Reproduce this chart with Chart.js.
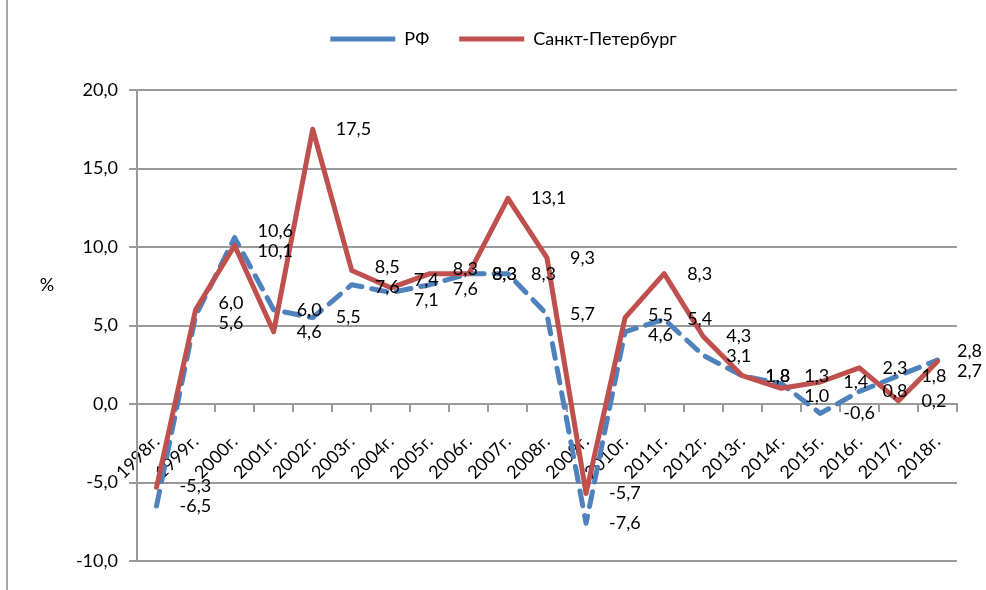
<!DOCTYPE html>
<html>
<head>
<meta charset="utf-8">
<script src="https://cdn.jsdelivr.net/npm/chart.js@4.4.1/dist/chart.umd.min.js"></script>
<style>
  html, body { margin: 0; padding: 0; background: #fff; }
  #wrap { width: 986px; height: 590px; }
</style>
</head>
<body>
<div id="wrap"><canvas id="chartCanvas" width="986" height="590"></canvas></div>
<script>
// ---- data ----
const years = [
  "1998г.", "1999г.", "2000г.", "2001г.", "2002г.", "2003г.", "2004г.",
  "2005г.", "2006г.", "2007г.", "2008г.", "2009г.", "2010г.", "2011г.",
  "2012г.", "2013г.", "2014г.", "2015г.", "2016г.", "2017г.", "2018г."
];
const rfValues = [-6.5, 5.6, 10.6, 6.0, 5.5, 7.6, 7.1, 7.6, 8.3, 8.3, 5.7, -7.6, 4.6, 5.4, 3.1, 1.8, 1.3, -0.6, 0.8, 1.8, 2.8];
const spbValues = [-5.3, 6.0, 10.1, 4.6, 17.5, 8.5, 7.4, 8.3, 8.3, 13.1, 9.3, -5.7, 5.5, 8.3, 4.3, 1.8, 1.0, 1.4, 2.3, 0.2, 2.7];
const yTicks = [-10, -5, 0, 5, 10, 15, 20];
const seriesNames = ["РФ", "Санкт-Петербург"];

const FONT = { family: "Lato, 'Noto Sans', sans-serif", size: 18 };
const GRID = "#9a9a9a";
const LABEL_GAP = 20;

// 1,5 style numbers
function fmt(v) {
  return v.toFixed(1).replace(".", ",");
}

// white background + thin frame line on the left
const frame = {
  id: "frame",
  beforeDraw(chart) {
    const ctx = chart.ctx;
    ctx.save();
    ctx.fillStyle = "#fff";
    ctx.fillRect(0, 0, chart.width, chart.height);
    ctx.strokeStyle = "#a6a6a6";
    ctx.lineWidth = 2;
    ctx.beginPath();
    ctx.moveTo(7, 0);
    ctx.lineTo(7, chart.height);
    ctx.stroke();
    ctx.restore();
  },
  afterDraw(chart) {
    // "%" axis caption, kept horizontal like the original
    const ctx = chart.ctx;
    const area = chart.chartArea;
    ctx.save();
    ctx.font = FONT.size + "px " + FONT.family;
    ctx.fillStyle = "#000";
    ctx.textAlign = "center";
    ctx.textBaseline = "middle";
    ctx.fillText("%", area.left - 90, area.top + 195);
    ctx.restore();
  }
};

// value labels to the right of each point
const pointLabels = {
  id: "pointLabels",
  afterDatasetsDraw(chart) {
    const ctx = chart.ctx;
    const rf = chart.getDatasetMeta(0).data;
    const spb = chart.getDatasetMeta(1).data;
    ctx.save();
    ctx.font = FONT.size + "px " + FONT.family;
    ctx.fillStyle = "#000";
    ctx.textAlign = "left";
    ctx.textBaseline = "middle";
    years.forEach((_, i) => {
      const a = { v: rfValues[i], p: rf[i] };
      const b = { v: spbValues[i], p: spb[i] };
      let ya = a.p.y, yb = b.p.y;
      if (a.v !== b.v && Math.abs(ya - yb) < LABEL_GAP) {
        const mid = (ya + yb) / 2;
        const s = a.v > b.v ? -1 : 1;
        ya = mid + s * LABEL_GAP / 2;
        yb = mid - s * LABEL_GAP / 2;
      }
      [[a, ya], [b, yb]].forEach(([o, y]) => {
        const txt = fmt(o.v);
        const w = ctx.measureText(txt).width;
        const x = Math.min(o.p.x + 23, chart.width - 4 - w);
        ctx.fillText(txt, x, y);
      });
    });
    ctx.restore();
  }
};

const ctx = document.getElementById("chartCanvas").getContext("2d");
const chart = new Chart(ctx, {
  type: "line",
  data: {
    labels: years,
    datasets: [
      {
        label: seriesNames[0],
        data: rfValues,
        borderColor: "#4F81BD",
        backgroundColor: "#4F81BD",
        borderWidth: 5,
        borderDash: [15, 10],
        borderCapStyle: "round",
        borderJoinStyle: "round",
        pointRadius: 0,
        tension: 0,
        fill: false,
        order: 2
      },
      {
        label: seriesNames[1],
        data: spbValues,
        borderColor: "#C0504D",
        backgroundColor: "#C0504D",
        borderWidth: 5,
        borderCapStyle: "round",
        borderJoinStyle: "round",
        pointRadius: 0,
        tension: 0,
        fill: false,
        order: 1
      }
    ]
  },
  options: {
    responsive: false,
    animation: false,
    devicePixelRatio: 1,
    layout: { padding: { top: 0, right: 29, bottom: 29, left: 50 } },
    plugins: {
      tooltip: { enabled: false },
      legend: {
        position: "top",
        labels: {
          usePointStyle: true,
          pointStyle: "line",
          pointStyleWidth: 65,
          boxHeight: 18,
          padding: 30,
          color: "#000",
          font: FONT,
          sort: (a, b) => a.datasetIndex - b.datasetIndex
        }
      },
      // empty spacer between the legend and the plot
      title: {
        display: true,
        text: "",
        weight: 500,
        font: { size: 10, lineHeight: 1 },
        padding: { top: 0, bottom: 22 }
      }
    },
    scales: {
      x: {
        position: { y: 0 },
        offset: true,
        grid: {
          offset: true,
          drawOnChartArea: false,
          drawTicks: true,
          tickLength: 7,
          color: GRID,
          lineWidth: 2
        },
        border: { display: true, color: GRID, width: 2 },
        ticks: {
          color: "#000",
          font: FONT,
          minRotation: 45,
          maxRotation: 45,
          autoSkip: false,
          padding: 20
        }
      },
      y: {
        min: yTicks[0],
        max: yTicks[yTicks.length - 1],
        afterBuildTicks: s => { s.ticks = yTicks.map(v => ({ value: v })); },
        afterFit: s => { s.width = 87; },
        grid: { color: GRID, lineWidth: 2, tickLength: 8 },
        border: { display: true, color: GRID, width: 2 },
        ticks: {
          color: "#000",
          font: FONT,
          padding: 11,
          callback: v => fmt(v)
        }
      }
    }
  },
  plugins: [frame, pointLabels]
});
</script>
</body>
</html>
